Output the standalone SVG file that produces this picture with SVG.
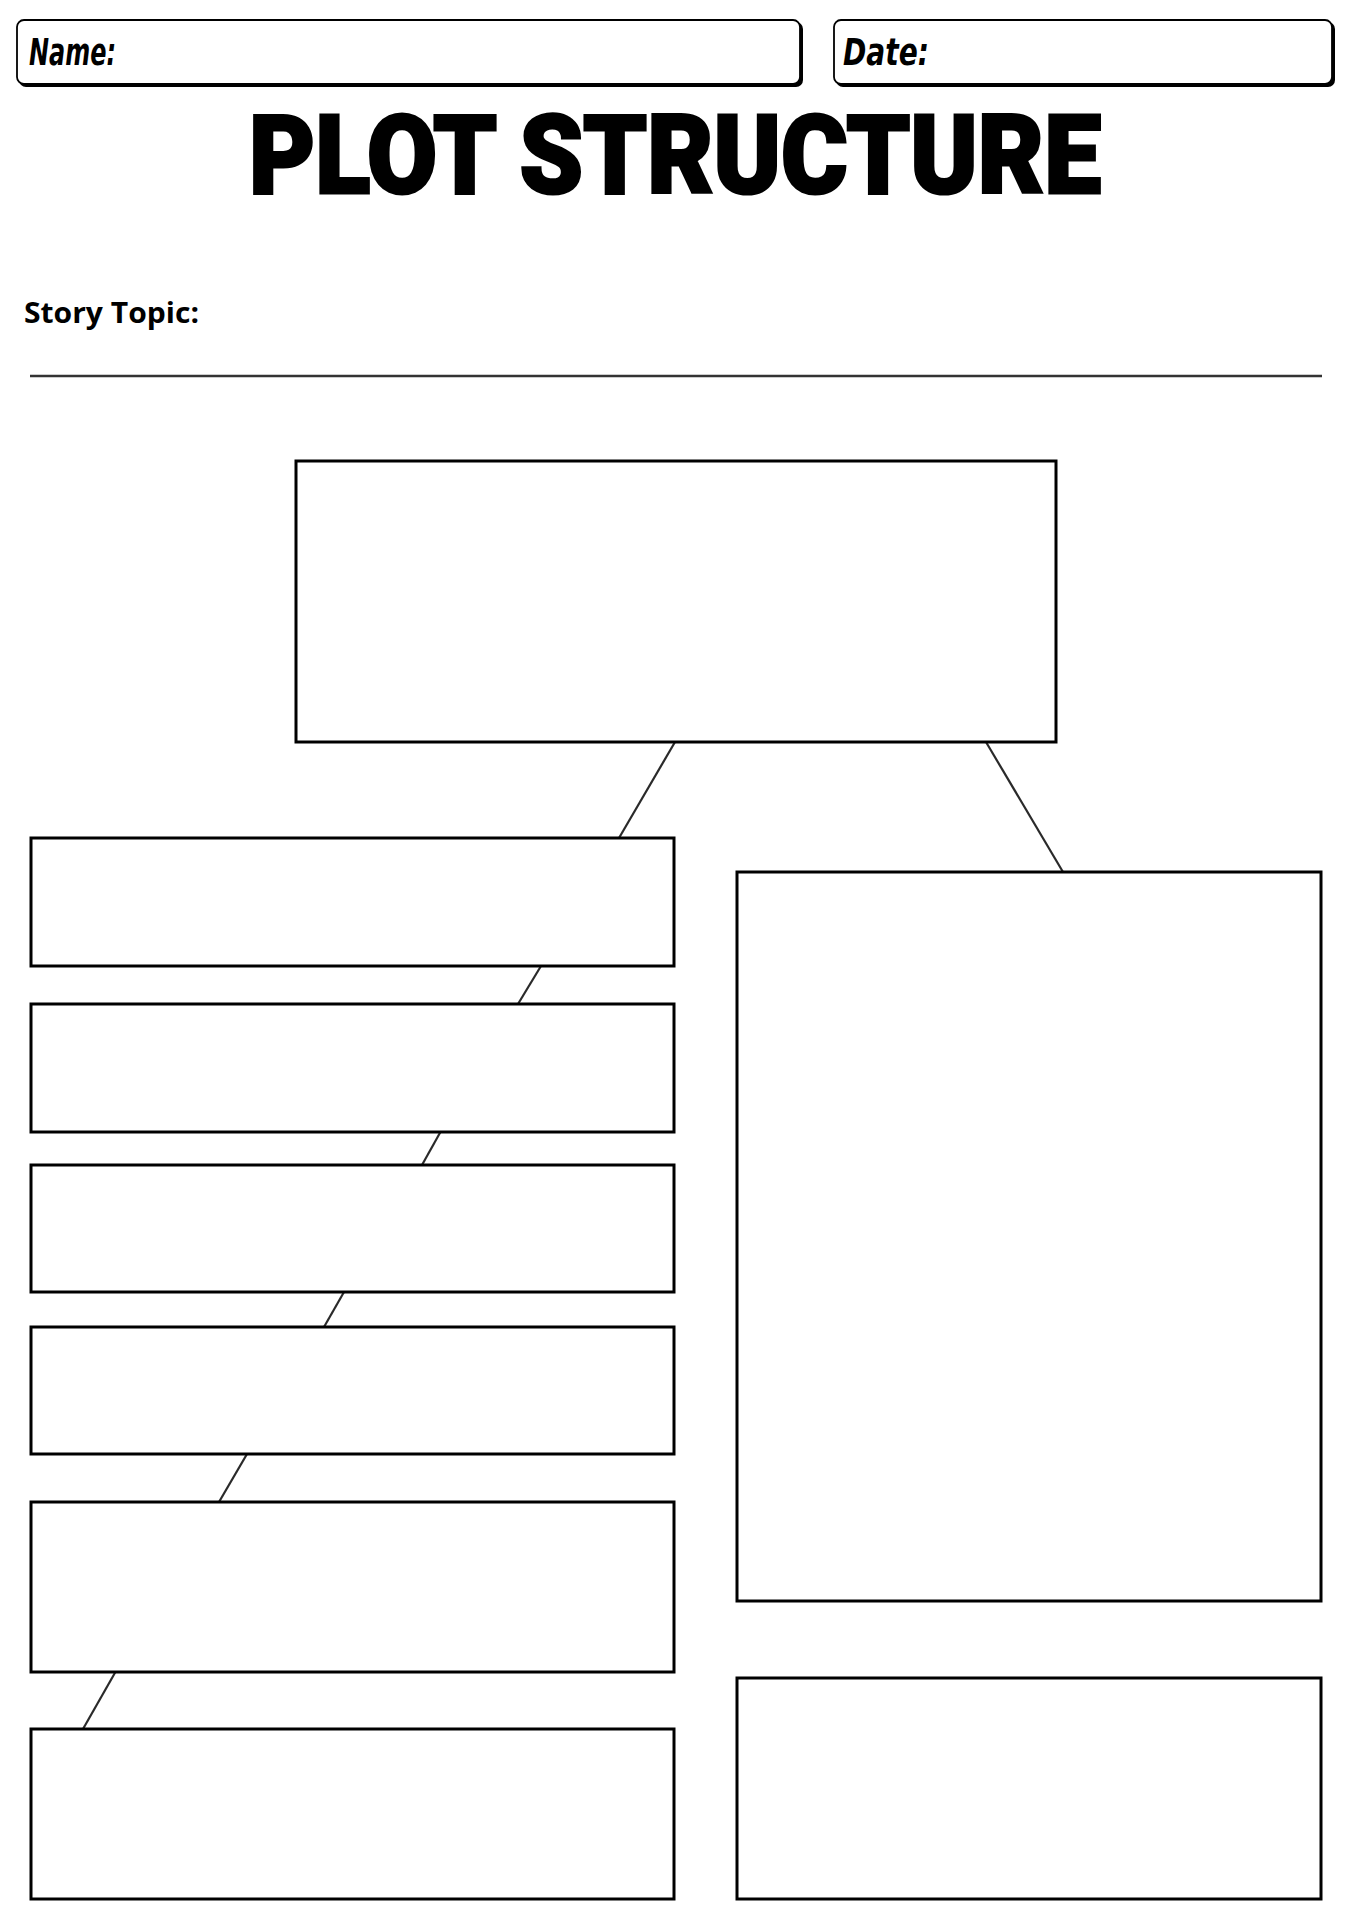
<svg xmlns="http://www.w3.org/2000/svg" width="1350" height="1920" viewBox="0 0 1350 1920">
<style>
.box{fill:#fff;stroke:#000;stroke-width:3}
.conn{stroke:#2a2a2a;stroke-width:2.2;fill:none}
.hdr{fill:#fff;stroke:#000;stroke-width:1.8}
.hdrsh{fill:#000}
.hand{font-family:"DejaVu Sans Condensed","DejaVu Sans",sans-serif;font-style:oblique;font-weight:bold;font-size:38px;fill:#000}
</style>
<rect width="1350" height="1920" fill="#fff"/>
<g id="name-field">
<rect class="hdrsh" x="19" y="22" width="784" height="65" rx="7"/>
<rect class="hdr" x="17" y="20" width="783" height="64" rx="7"/>
<text class="hand" x="29" y="65" textLength="87" lengthAdjust="spacingAndGlyphs">Name:</text>
</g>
<g id="date-field">
<rect class="hdrsh" x="836" y="22" width="499" height="65" rx="7"/>
<rect class="hdr" x="834" y="20" width="498" height="64" rx="7"/>
<text class="hand" x="843" y="65" textLength="86" lengthAdjust="spacingAndGlyphs">Date:</text>
</g>
<g id="title">
<text x="249" y="193" font-family="Roboto,'DejaVu Sans',sans-serif" font-weight="900" font-size="110" textLength="852" lengthAdjust="spacingAndGlyphs" fill="#000" stroke="#000" stroke-width="3">PLOT STRUCTURE</text>
</g>
<g id="story-topic">
<text x="24" y="323" font-family="'Open Sans','Liberation Sans',sans-serif" font-weight="bold" font-size="28" textLength="175" lengthAdjust="spacingAndGlyphs" fill="#000">Story Topic:</text>
<line x1="30" y1="376" x2="1322" y2="376" stroke="#333" stroke-width="2.6"/>
</g>
<g id="connectors">
<line class="conn" x1="675" y1="742" x2="619" y2="838"/>
<line class="conn" x1="986" y1="742" x2="1063" y2="872"/>
<line class="conn" x1="541" y1="966" x2="518" y2="1004"/>
<line class="conn" x1="441" y1="1131" x2="422" y2="1165"/>
<line class="conn" x1="344" y1="1292" x2="324" y2="1327"/>
<line class="conn" x1="247" y1="1454" x2="219" y2="1502"/>
<line class="conn" x1="116" y1="1671" x2="83" y2="1729"/>
</g>
<g id="box-top"><rect class="box" x="296" y="461" width="760" height="281"/></g>
<g id="box-left-1"><rect class="box" x="31" y="838" width="643" height="128"/></g>
<g id="box-left-2"><rect class="box" x="31" y="1004" width="643" height="128"/></g>
<g id="box-left-3"><rect class="box" x="31" y="1165" width="643" height="127"/></g>
<g id="box-left-4"><rect class="box" x="31" y="1327" width="643" height="127"/></g>
<g id="box-left-5"><rect class="box" x="31" y="1502" width="643" height="170"/></g>
<g id="box-left-6"><rect class="box" x="31" y="1729" width="643" height="170"/></g>
<g id="box-right-1"><rect class="box" x="737" y="872" width="584" height="729"/></g>
<g id="box-right-2"><rect class="box" x="737" y="1678" width="584" height="221"/></g>
</svg>
